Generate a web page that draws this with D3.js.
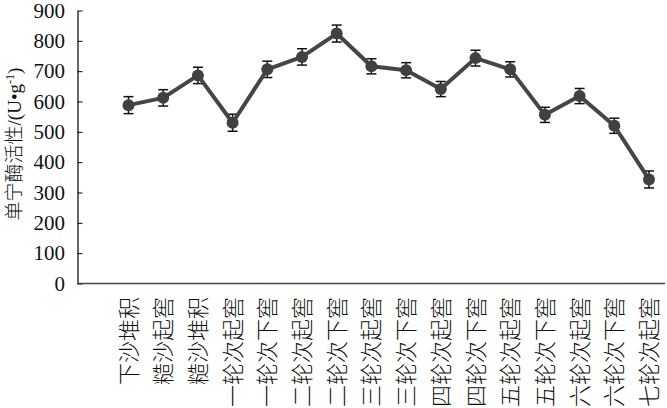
<!DOCTYPE html>
<html>
<head>
<meta charset="utf-8">
<script src="https://cdn.jsdelivr.net/npm/d3@7"></script>
<style>
body { margin: 0; background: #fff; }
</style>
</head>
<body>
<script>
var w = 667;
var h = 408;

var categories = ["下沙堆积", "糙沙起窖", "糙沙堆积", "一轮次起窖", "一轮次下窖",
  "二轮次起窖", "二轮次下窖", "三轮次起窖", "三轮次下窖", "四轮次起窖",
  "四轮次下窖", "五轮次起窖", "五轮次下窖", "六轮次起窖", "六轮次下窖", "七轮次起窖"];
var values = [588, 612, 686, 530, 706, 747, 824, 716, 703, 641, 743, 706, 556, 618, 520, 343];
var errors = [28, 27, 27, 28, 27, 27, 28, 25, 25, 25, 26, 25, 25, 25, 25, 28];
var yTicks = [0, 100, 200, 300, 400, 500, 600, 700, 800, 900];

var serif = "'Liberation Serif', 'Times New Roman', serif";
var cjk = "'Noto Sans CJK SC', sans-serif";

var plotL = 77.5, plotR = 665, plotT = 10.5, plotB = 283.5;

var svg = d3.select("body")
.append("svg")
.attr("width", w)
.attr("height", h);

var x = d3.scalePoint()
.domain(categories)
.range([plotL + 51, plotR - 16]);

var y = d3.scaleLinear()
.domain([0, 900])
.range([plotB, plotT]);

// y axis, ticks pointing inward
var yAxis = svg.append("g")
.attr("transform", "translate(" + plotL + ",0)")
.call(d3.axisRight(y).tickValues(yTicks).tickSize(5).tickSizeOuter(0).tickFormat(""));
yAxis.select(".domain").attr("stroke", "#000").attr("stroke-width", 1.2);
yAxis.selectAll(".tick line").attr("stroke", "#000");

svg.selectAll("text.ytick")
.data(yTicks)
.enter()
.append("text")
.attr("class", "ytick")
.attr("x", 65)
.attr("y", function(d) { return y(d) + 7; })
.attr("text-anchor", "end")
.attr("font-size", "21px")
.attr("fill", "#111")
.style("font-family", serif)
.text(function(d) { return d; });

// x axis line
svg.append("line")
.attr("x1", plotL)
.attr("x2", plotR)
.attr("y1", plotB)
.attr("y2", plotB)
.attr("stroke", "#444")
.attr("stroke-width", 1.5);

// category labels, rotated
svg.selectAll("text.cat")
.data(categories)
.enter()
.append("text")
.attr("class", "cat")
.attr("transform", function(d) { return "translate(" + (x(d) + 8) + ",297) rotate(-90)"; })
.attr("text-anchor", "end")
.attr("font-size", "22px")
.attr("fill", "#111")
.style("font-family", cjk)
.style("font-weight", 300)
.text(function(d) { return d; });

// y axis title
var title = svg.append("text")
.attr("transform", "translate(21,144) rotate(-90)")
.attr("text-anchor", "middle")
.attr("font-size", "19px")
.attr("fill", "#111")
.style("font-family", serif);
title.append("tspan").style("font-family", cjk).style("font-weight", 300).text("单宁酶活性");
title.append("tspan").text("/(U•g");
title.append("tspan").attr("dy", -7).attr("font-size", "12px").text("-1");
title.append("tspan").attr("dy", 7).text(")");

// error bars
var eb = svg.selectAll("g.err")
.data(values)
.enter()
.append("g")
.attr("class", "err")
.attr("stroke", "#111")
.attr("stroke-width", 1.5);
eb.append("line")
.attr("x1", function(d, i) { return x(categories[i]); })
.attr("x2", function(d, i) { return x(categories[i]); })
.attr("y1", function(d, i) { return y(d + errors[i]); })
.attr("y2", function(d, i) { return y(d - errors[i]); });
eb.append("line")
.attr("x1", function(d, i) { return x(categories[i]) - 5; })
.attr("x2", function(d, i) { return x(categories[i]) + 5; })
.attr("y1", function(d, i) { return y(d + errors[i]); })
.attr("y2", function(d, i) { return y(d + errors[i]); });
eb.append("line")
.attr("x1", function(d, i) { return x(categories[i]) - 5; })
.attr("x2", function(d, i) { return x(categories[i]) + 5; })
.attr("y1", function(d, i) { return y(d - errors[i]); })
.attr("y2", function(d, i) { return y(d - errors[i]); });

// line
var line = d3.line()
.x(function(d, i) { return x(categories[i]); })
.y(function(d) { return y(d); });

svg.append("path")
.datum(values)
.attr("d", line)
.attr("fill", "none")
.attr("stroke", "#454545")
.attr("stroke-width", 4)
.attr("stroke-linejoin", "round");

svg.selectAll("circle")
.data(values)
.enter()
.append("circle")
.attr("cx", function(d, i) { return x(categories[i]); })
.attr("cy", function(d) { return y(d); })
.attr("r", 6)
.attr("fill", "#404040");
</script>
</body>
</html>
